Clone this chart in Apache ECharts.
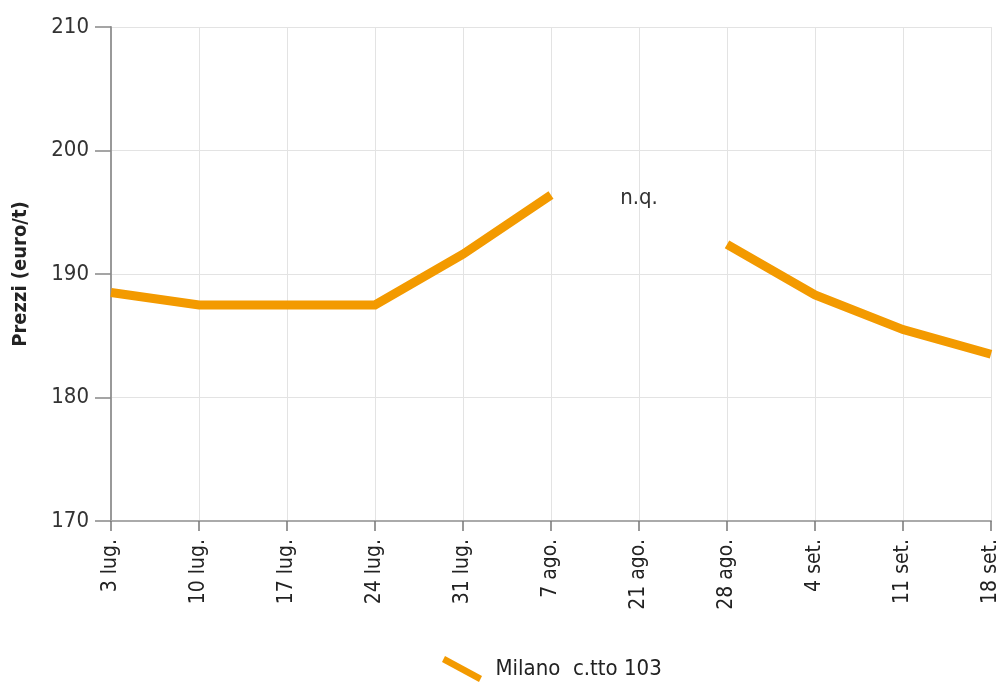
<!DOCTYPE html>
<html style="height:100%;width:100%;">
<head>
  <meta charset="utf-8">
  <title>Prezzi Milano</title>
  <script src="https://cdn.jsdelivr.net/npm/echarts@6/dist/echarts.min.js"></script>
</head>
<body style="margin:0px;height:100%;width:100%;background:#fff;">
  <div id="main" style="width:1001px;height:684px"></div>
  <script type="text/javascript">
    // dati
    var weeks = ['3 lug.', '10 lug.', '17 lug.', '24 lug.', '31 lug.', '7 ago.', '21 ago.', '28 ago.', '4 set.', '11 set.', '18 set.'];
    var milano = [188.5, 187.5, 187.5, 187.5, 191.6, 196.4, null, 192.4, 188.3, 185.5, 183.5];
    var seriesName = 'Milano  c.tto 103';
    var noteLabel = 'n.q.';
    var noteAt = ['21 ago.', 196.1];

    var font = '"DejaVu Sans Condensed", "Liberation Sans Narrow", sans-serif';
    var orange = '#f39a00';

    var myChart = echarts.init(document.getElementById('main'));
    var option = {
      animation: false,
      textStyle: { fontFamily: font },
      grid: { left: 111, right: 10, top: 27, bottom: 163, containLabel: false, outerBoundsMode: 'none' },
      legend: {
        top: 651,
        left: 437,
        data: [seriesName],
        icon: 'path://M3,0 L40,20 L37,26 L0,6 Z',
        itemWidth: 41,
        itemHeight: 26,
        textStyle: { fontFamily: font, fontSize: 22, color: '#222', padding: [0, 0, 0, 8] }
      },
      xAxis: {
        type: 'category',
        data: weeks,
        boundaryGap: false,
        axisLine: { lineStyle: { color: '#aaa', width: 2 } },
        axisTick: { show: true, length: 10, lineStyle: { color: '#777', width: 1.5 }, alignWithLabel: true },
        axisLabel: { rotate: 90, fontSize: 21, color: '#222', margin: 18, fontFamily: font, interval: 0 },
        splitLine: { show: true, lineStyle: { color: '#e3e3e3', width: 1 } }
      },
      yAxis: {
        type: 'value',
        min: 170,
        max: 210,
        interval: 10,
        name: 'Prezzi (euro/t)',
        nameLocation: 'middle',
        nameGap: 80,
        nameTextStyle: { fontFamily: font, fontSize: 20, fontWeight: 'bold', color: '#222' },
        axisLine: { show: true, lineStyle: { color: '#999', width: 2 } },
        axisTick: { show: true, length: 16, lineStyle: { color: '#888', width: 1.5 } },
        axisLabel: { fontSize: 22, color: '#333', margin: 22, fontFamily: font },
        splitLine: { show: true, lineStyle: { color: '#e3e3e3', width: 1 } }
      },
      series: [{
        name: seriesName,
        type: 'line',
        data: milano,
        showSymbol: false,
        symbol: 'none',
        connectNulls: false,
        lineStyle: { color: orange, width: 9, cap: 'butt', join: 'miter' },
        itemStyle: { color: orange },
        markPoint: {
          symbol: 'rect',
          symbolSize: 1,
          itemStyle: { color: 'rgba(0,0,0,0)' },
          label: { show: true, formatter: noteLabel, fontFamily: font, fontSize: 22, color: '#333', position: 'inside' },
          data: [{ coord: noteAt }]
        }
      }]
    };
    myChart.setOption(option, true);
  </script>
</body>
</html>
